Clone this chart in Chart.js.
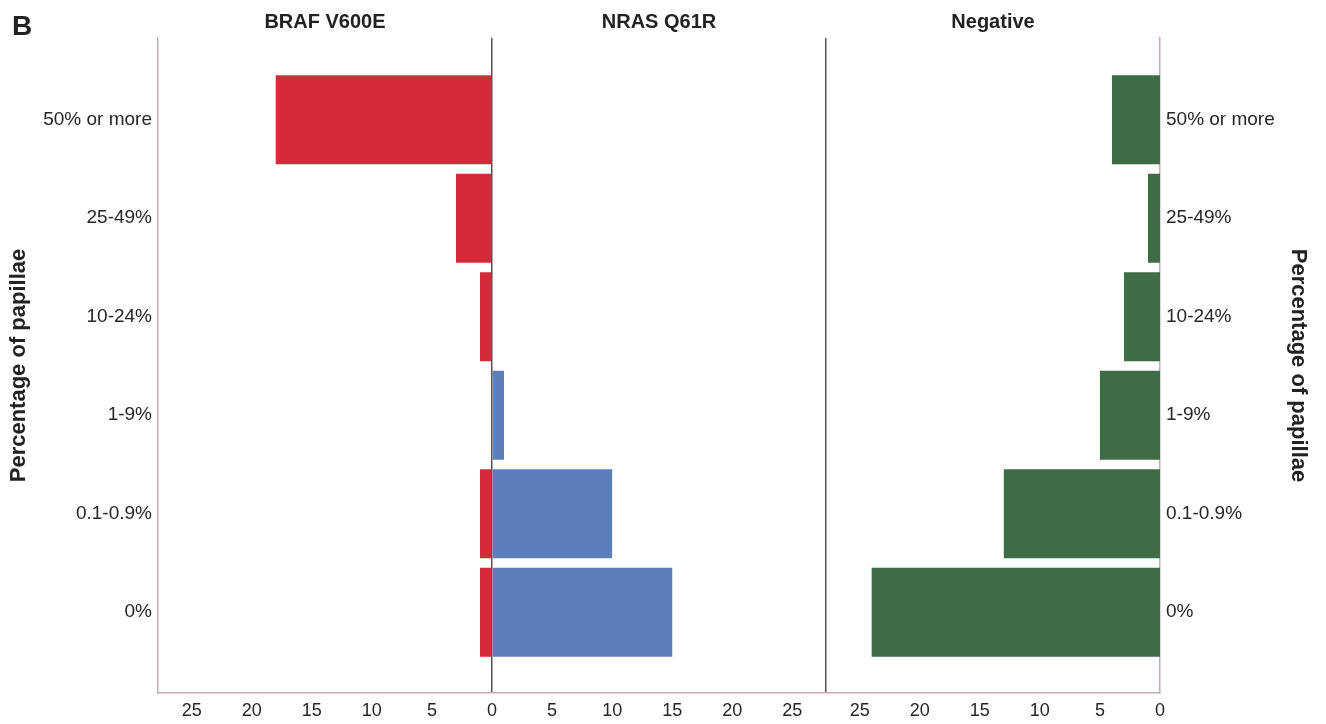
<!DOCTYPE html>
<html>
<head>
<meta charset="utf-8">
<script src="https://cdn.jsdelivr.net/npm/chart.js@4"></script>
<style>
  body { margin: 0; background: #fff; }
  #wrap { width: 1326px; height: 724px; }
</style>
</head>
<body>
<div id="wrap"><canvas id="chart" width="1326" height="724"></canvas></div>
<script>
const categories = ['50% or more', '25-49%', '10-24%', '1-9%', '0.1-0.9%', '0%'];
const panelTitles = ['BRAF V600E', 'NRAS Q61R', 'Negative'];
const brafValues = [18, 3, 1, 0, 1, 1];
const nrasValues = [0, 0, 0, 1, 10, 15];
const negativeValues = [4, 1, 3, 5, 13, 24];
const tickValues = [25, 20, 15, 10, 5, 0];
const axisTitle = 'Percentage of papillae';
const panelLetter = 'B';

// one panel is this many counts wide; the three panels sit side by side on one x scale
const SPAN = 27.8;

const frameColor = '#c9abb3';
const dividerColor = '#5e4d52';
const textColor = '#262626';

Chart.defaults.font.family = '"Liberation Sans", Arial, sans-serif';
Chart.defaults.color = textColor;

// x ticks: left panel runs 25..0, middle 0..25, right 25..0 again
const xTicks = []
  .concat(tickValues.map(v => -v))
  .concat(tickValues.slice(0, -1).reverse())
  .concat([SPAN])
  .concat(tickValues.map(v => 2 * SPAN - v));

function xLabel(value) {
  if (value === SPAN) return '';
  if (value <= 0) return String(Math.abs(value));
  if (value < SPAN) return String(value);
  return String(Math.round(2 * SPAN - value));
}

const catTicks = scale => { scale.ticks = categories.map((c, i) => ({ value: i })); };

const yCommon = {
  type: 'linear',
  reverse: true,
  min: -0.83,
  max: 5.82,
  offset: false,
  afterBuildTicks: catTicks,
  grid: { display: false, drawTicks: false, offset: false },
  border: { display: true, color: frameColor, width: 1.5 },
  ticks: {
    autoSkip: false,
    padding: 6,
    font: { size: 19 },
    color: textColor,
    callback: v => categories[v]
  }
};

const ctx = document.getElementById('chart').getContext('2d');

new Chart(ctx, {
  type: 'bar',
  data: {
    datasets: [
      {
        label: panelTitles[0],
        data: brafValues.map((v, i) => ({ x: -v, y: i })),
        backgroundColor: '#d42a3a'
      },
      {
        label: panelTitles[1],
        data: nrasValues.map((v, i) => ({ x: v, y: i })),
        backgroundColor: '#5b7fba'
      },
      {
        label: panelTitles[2],
        data: negativeValues.map((v, i) => ({ x: [2 * SPAN - v, 2 * SPAN], y: i })),
        backgroundColor: '#3d6c46'
      }
    ]
  },
  options: {
    indexAxis: 'y',
    responsive: false,
    animation: false,
    grouped: false,
    barPercentage: 0.905,
    categoryPercentage: 1,
    borderWidth: 0,
    layout: { padding: { top: 38, left: 0, right: 0, bottom: 0 } },
    plugins: {
      legend: { display: false },
      tooltip: { enabled: false }
    },
    scales: {
      x: {
        type: 'linear',
        min: -SPAN,
        max: 2 * SPAN,
        afterBuildTicks: scale => { scale.ticks = xTicks.map(v => ({ value: v })); },
        afterFit: scale => { scale.height = 31; },
        grid: {
          drawTicks: false,
          lineWidth: 1.5,
          color: c => (c.tick && (c.tick.value === 0 || c.tick.value === SPAN)) ? dividerColor : 'rgba(0,0,0,0)'
        },
        border: { display: true, color: frameColor, width: 1.5 },
        ticks: {
          autoSkip: false,
          maxRotation: 0,
          padding: 7,
          font: { size: 18 },
          color: textColor,
          callback: v => xLabel(v)
        }
      },
      y: Object.assign({}, yCommon, {
        position: 'left',
        afterFit: scale => { scale.width = 158; },
        title: {
          display: true,
          text: axisTitle,
          color: '#222',
          font: { size: 22, weight: 'bold' },
          padding: { top: 6, bottom: 0 }
        }
      }),
      y2: Object.assign({}, yCommon, {
        position: 'right',
        afterFit: scale => { scale.width = 166; },
        title: {
          display: true,
          text: axisTitle,
          color: '#222',
          font: { size: 22, weight: 'bold' },
          padding: { top: 15, bottom: 0 }
        }
      })
    }
  },
  plugins: [{
    id: 'panelTitles',
    afterDraw(chart) {
      const c = chart.ctx;
      const xs = chart.scales.x;
      const centers = [-SPAN / 2, SPAN / 2, 1.5 * SPAN];
      c.save();
      c.fillStyle = '#222';
      c.textAlign = 'center';
      c.textBaseline = 'middle';
      c.font = 'bold 20px "Liberation Sans", Arial, sans-serif';
      panelTitles.forEach((t, i) => {
        c.fillText(t, xs.getPixelForValue(centers[i]), 22);
      });
      c.textAlign = 'left';
      c.textBaseline = 'alphabetic';
      c.font = 'bold 28px "Liberation Sans", Arial, sans-serif';
      c.fillText(panelLetter, 12, 35);
      c.restore();
    }
  }]
});
</script>
</body>
</html>
